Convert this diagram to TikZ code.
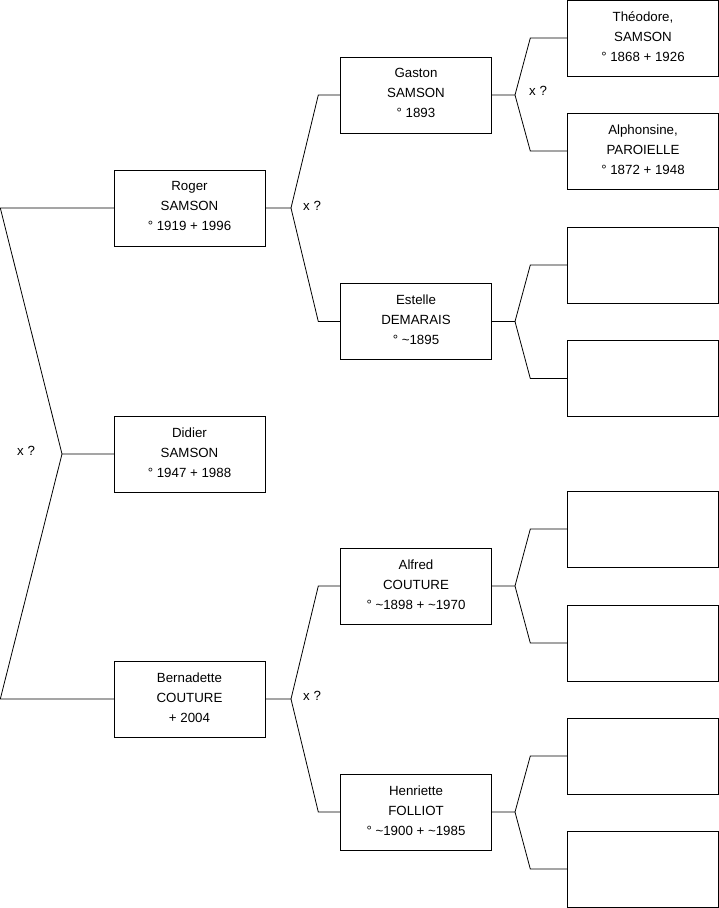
\documentclass[tikz,border=0pt]{standalone}
\usepackage{fontspec}
\setmainfont{Liberation Sans}
\usetikzlibrary{positioning}

\begin{document}
\begin{tikzpicture}[
    x=1pt,y=-1pt,
    person/.style={draw,align=center,minimum width=151pt,minimum height=76pt,inner sep=0pt,text depth=3.5pt,font=\fontsize{13.3}{20}\selectfont},
    link/.style={line width=0.8pt},
    union/.style={anchor=west,inner sep=0pt,font=\fontsize{13.3}{14}\selectfont}
]
\useasboundingbox (0,0) rectangle (719,908);
% generation 1
\node[person] (didier) at (189.5,454) {Didier\\SAMSON\\\textdegree{} 1947 + 1988};
% generation 2
\node[person] (roger) at (189.5,208) {Roger\\SAMSON\\\textdegree{} 1919 + 1996};
\node[person] (bernadette) at (189.5,699) {Bernadette\\COUTURE\\+ 2004};
% generation 3
\node[person] (gaston) at (416,95) {Gaston\\SAMSON\\\textdegree{} 1893};
\node[person] (estelle) at (416,321.5) {Estelle\\DEMARAIS\\\textdegree{} \textasciitilde1895};
\node[person] (alfred) at (416,586) {Alfred\\COUTURE\\\textdegree{} \textasciitilde1898 + \textasciitilde1970};
\node[person] (henriette) at (416,812) {Henriette\\FOLLIOT\\\textdegree{} \textasciitilde1900 + \textasciitilde1985};
% generation 4
\node[person] (theodore) at (643,38) {Théodore,\\SAMSON\\\textdegree{} 1868 + 1926};
\node[person] (alphonsine) at (643,151) {Alphonsine,\\PAROIELLE\\\textdegree{} 1872 + 1948};
\node[person] (estellef) at (643,265) {};
\node[person] (estellem) at (643,378.5) {};
\node[person] (alfredf) at (643,529) {};
\node[person] (alfredm) at (643,643) {};
\node[person] (henriettef) at (643,756) {};
\node[person] (henriettem) at (643,869) {};
% forks
\coordinate (fdidier) at (62,454);
\coordinate (froger) at (291,208);
\coordinate (fbernadette) at (291,699);
\coordinate (fgaston) at (515,95);
\coordinate (festelle) at (515,321.5);
\coordinate (falfred) at (515,586);
\coordinate (fhenriette) at (515,812);
\draw[link] (didier.west)--(fdidier)--([xshift=-113.5pt]roger.west)--(roger.west);
\draw[link] (fdidier)--([xshift=-113.5pt]bernadette.west)--(bernadette.west);
\draw[link] (roger.east)--(froger)--([xshift=-22pt]gaston.west)--(gaston.west);
\draw[link] (froger)--([xshift=-22pt]estelle.west)--(estelle.west);
\draw[link] (bernadette.east)--(fbernadette)--([xshift=-22pt]alfred.west)--(alfred.west);
\draw[link] (fbernadette)--([xshift=-22pt]henriette.west)--(henriette.west);
\draw[link] (gaston.east)--(fgaston)--([xshift=-37pt]theodore.west)--(theodore.west);
\draw[link] (fgaston)--([xshift=-37pt]alphonsine.west)--(alphonsine.west);
\draw[link] (estelle.east)--(festelle)--([xshift=-37pt]estellef.west)--(estellef.west);
\draw[link] (festelle)--([xshift=-37pt]estellem.west)--(estellem.west);
\draw[link] (alfred.east)--(falfred)--([xshift=-37pt]alfredf.west)--(alfredf.west);
\draw[link] (falfred)--([xshift=-37pt]alfredm.west)--(alfredm.west);
\draw[link] (henriette.east)--(fhenriette)--([xshift=-37pt]henriettef.west)--(henriettef.west);
\draw[link] (fhenriette)--([xshift=-37pt]henriettem.west)--(henriettem.west);
% unions
\node[union] (udidier) at (17,451) {x ?};
\node[union] (uroger) at (303,206) {x ?};
\node[union] (ubernadette) at (303,696) {x ?};
\node[union] (ugaston) at (529,91) {x ?};
\end{tikzpicture}
\end{document}
